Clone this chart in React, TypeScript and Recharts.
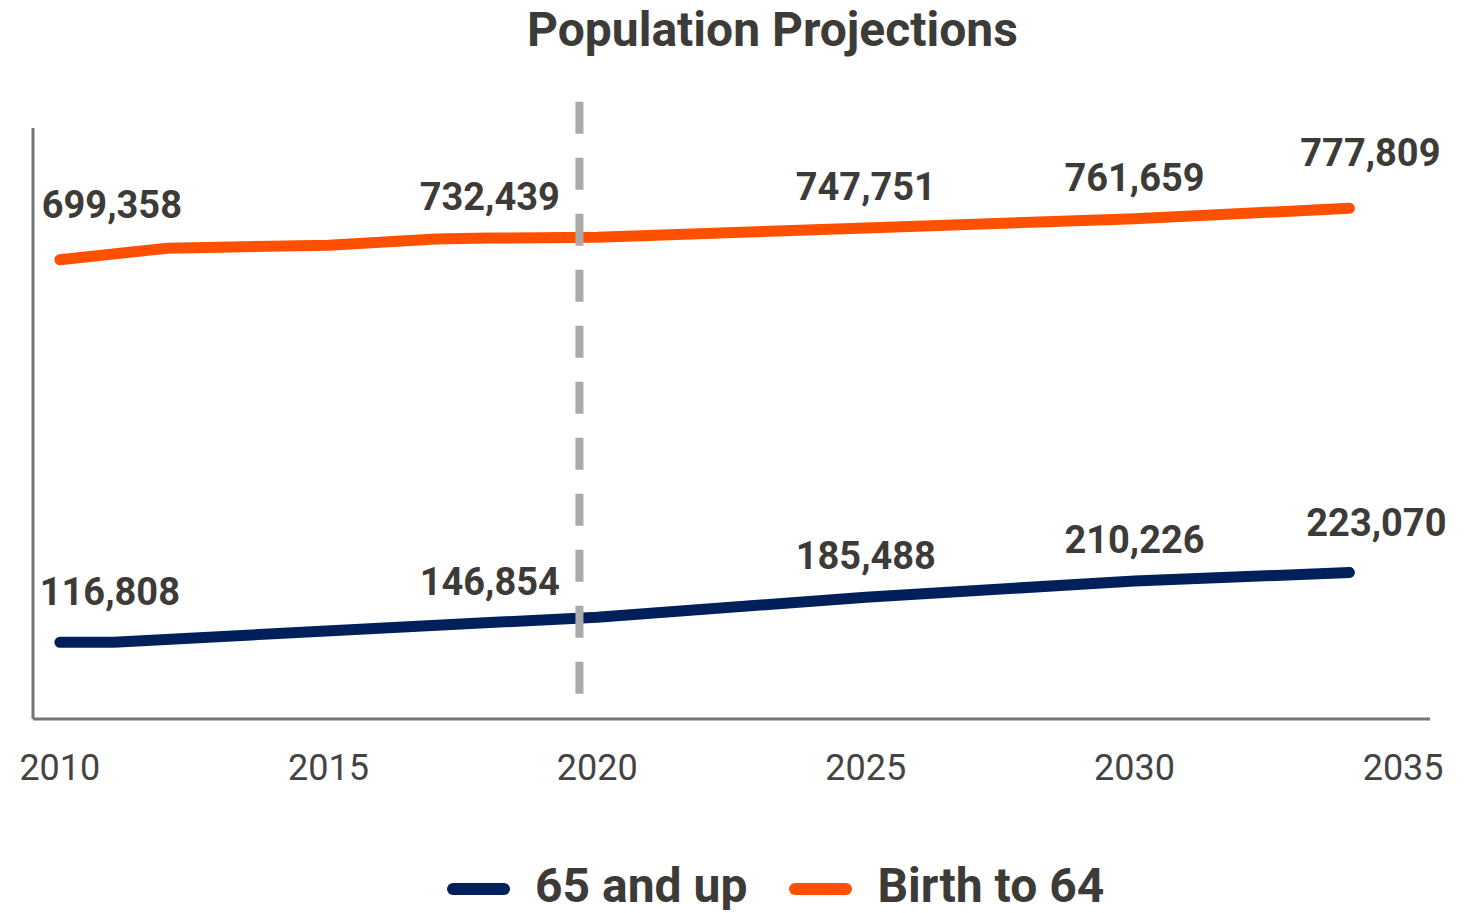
import { Legend, Line, LineChart, ReferenceLine, XAxis, YAxis } from 'recharts';

// values
const birthYears = [2010, 2012, 2015, 2017, 2018, 2020, 2025, 2030, 2034];
const birthTo64 = [699358, 717000, 721500, 731000, 732439, 733600, 747751, 761659, 777809];

const seniorYears = [2010, 2011, 2018, 2020, 2025, 2030, 2034];
const age65Up = [116808, 117000, 146854, 155000, 185488, 210226, 223070];

const xTicks = [2010, 2015, 2020, 2025, 2030, 2035];
const labelYears = [2010, 2018, 2025, 2030, 2034];
const markerYear = 2019.67;

const TEXT = '#3d3b38';
const NAVY = '#00205b';
const ORANGE = '#ff5000';

const seniorData = seniorYears.map((year, i) => ({ year, value: age65Up[i] }));
const birthData = birthYears.map((year, i) => ({ year, value: birthTo64[i] }));

const series = [
  { key: 'senior', name: '65 and up', color: NAVY, data: seniorData },
  { key: 'birth', name: 'Birth to 64', color: ORANGE, data: birthData },
];

// label nudges for the end points (keeps them inside the frame)
const nudges: Record<string, Record<number, { dx: number; dy: number }>> = {
  senior: { 2010: { dx: 50, dy: -37 }, 2034: { dx: 27, dy: -37 } },
  birth: { 2010: { dx: 52, dy: -42 }, 2034: { dx: 21, dy: -42 } },
};

const fmt = (v: number) => v.toLocaleString('en-US');

function pointLabel(key: string, data: { year: number; value: number }[]) {
  return (props: any) => {
    const { x, y, index } = props;
    const row = data[index];
    if (!row || !labelYears.includes(row.year)) return null;
    const n = nudges[key][row.year] ?? { dx: 0, dy: -28 };
    return (
      <text
        key={`${key}-${index}`}
        x={x + n.dx}
        y={y + n.dy}
        textAnchor="middle"
        fill={TEXT}
        fontFamily="Roboto"
        fontWeight={700}
        fontSize={38}
      >
        {fmt(row.value)}
      </text>
    );
  };
}

function LegendContent() {
  return (
    <div
      style={{
        height: 54,
        display: 'flex',
        alignItems: 'center',
        paddingLeft: 439,
        paddingTop: 4,
        boxSizing: 'border-box',
        fontFamily: 'Roboto',
        fontWeight: 700,
        fontSize: 48,
        color: TEXT,
      }}
    >
      {series.map((s, i) => (
        <div key={s.key} style={{ display: 'flex', alignItems: 'center', marginLeft: i ? 42 : 0 }}>
          <span
            style={{
              display: 'inline-block',
              width: 63,
              height: 12,
              borderRadius: 6,
              background: s.color,
              marginRight: 25,
              position: 'relative',
              top: 4,
            }}
          />
          <span>{s.name}</span>
        </div>
      ))}
    </div>
  );
}

export default function App() {
  return (
    <div style={{ position: 'relative', width: 1450, height: 902 }}>
      <LineChart width={1450} height={902} margin={{ top: 120, right: 28, bottom: 0, left: 24 }}>
        <XAxis
          type="number"
          dataKey="year"
          domain={[2009.5, 2035.5]}
          ticks={xTicks}
          interval={0}
          tickLine={false}
          tickSize={0}
          tickMargin={35}
          height={137}
          axisLine={{ stroke: '#757575', strokeWidth: 3 }}
          tick={{ fill: '#444', fontSize: 36, fontFamily: 'Roboto' }}
        />
        <YAxis
          type="number"
          domain={[0, 900000]}
          width={1}
          tick={false}
          tickLine={false}
          axisLine={{ stroke: '#757575', strokeWidth: 3 }}
        />
        {series.map((s) => (
          <Line
            key={s.key}
            data={s.data}
            dataKey="value"
            name={s.name}
            type="linear"
            stroke={s.color}
            strokeWidth={11}
            strokeLinecap="round"
            strokeLinejoin="round"
            dot={false}
            activeDot={false}
            isAnimationActive={false}
            label={pointLabel(s.key, s.data)}
          />
        ))}
        <ReferenceLine
          segment={[
            { x: markerYear, y: 940000 },
            { x: markerYear, y: 38500 },
          ]}
          ifOverflow="visible"
          stroke="#aaaaaa"
          strokeWidth={8}
          strokeDasharray="32 24"
        />
        <Legend
          verticalAlign="bottom"
          height={54}
          wrapperStyle={{ left: 0, width: 1450 }}
          content={() => <LegendContent />}
        />
      </LineChart>
      <div
        style={{
          position: 'absolute',
          top: -2,
          left: 0,
          width: 1450,
          boxSizing: 'border-box',
          paddingLeft: 79,
          textAlign: 'center',
          fontFamily: 'Roboto',
          fontWeight: 700,
          fontSize: 48,
          lineHeight: 1,
          color: TEXT,
        }}
      >
        Population Projections
      </div>
    </div>
  );
}
